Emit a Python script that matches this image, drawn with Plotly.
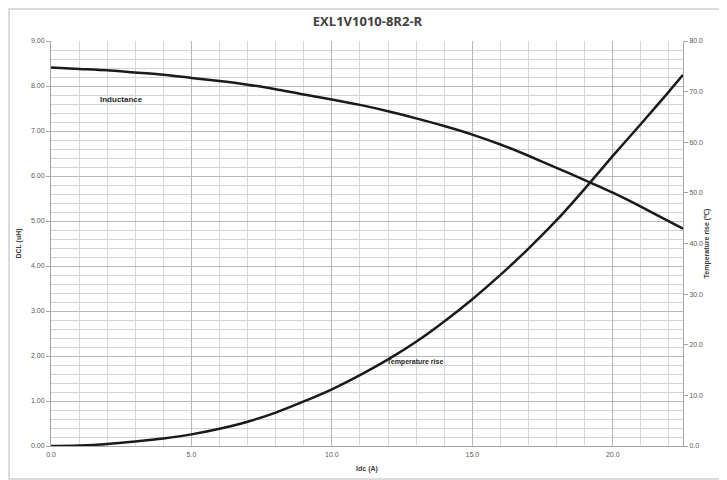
import plotly.graph_objects as go

idc = [0, 1, 2, 3, 4, 5, 6, 7, 8, 9, 10, 11, 12, 13, 14, 15, 16, 17, 18, 19, 20, 21, 22, 22.5]
inductance = [8.41, 8.38, 8.35, 8.30, 8.25, 8.18, 8.11, 8.03, 7.93, 7.81, 7.70, 7.58, 7.44, 7.28,
              7.11, 6.92, 6.70, 6.45, 6.18, 5.91, 5.63, 5.32, 4.99, 4.83]
temp_rise = [0.0, 0.1, 0.4, 0.9, 1.5, 2.3, 3.4, 4.8, 6.6, 8.8, 11.2, 14.0, 17.1, 20.6,
             24.6, 29.0, 33.8, 39.0, 44.6, 50.8, 57.3, 63.6, 70.0, 73.3]

title = "EXL1V1010-8R2-R"
x_title = "Idc (A)"
y_title = "DCL (uH)"
y2_title = "Temperature rise (℃)"

# page body has an 8px margin; the figure is sized to fill the rest of the window
W, H = 719, 472
L, R, T, B = 43, 44, 33, 34
pw, ph = W - L - R, H - T - B

def px_x(p):
    return (p - L) / pw

def px_y(p):
    return (H - B - p) / ph

line_style = dict(color="#1a1a1a", width=2.5, shape="spline", smoothing=0.6)
fig = go.Figure()
fig.add_trace(go.Scatter(x=idc, y=inductance, mode="lines", line=line_style,
                         showlegend=False, yaxis="y"))
fig.add_trace(go.Scatter(x=idc, y=temp_rise, mode="lines", line=line_style,
                         showlegend=False, yaxis="y2"))

tickfont = dict(family="Liberation Sans", size=7, color="#595959")
fig.update_layout(
    width=W, height=H,
    margin=dict(l=L, r=R, t=T, b=B, autoexpand=False),
    paper_bgcolor="white", plot_bgcolor="white",
    title=dict(text="<b>" + title + "</b>", x=0.5, xanchor="center", y=1 - 13 / H, yanchor="middle",
               font=dict(family="Open Sans", size=13, color="#404040")),
    xaxis=dict(range=[0, 22.5], tick0=0, dtick=5, tickformat=".1f", tickfont=tickfont,
               showgrid=True, gridcolor="#b8b8b8", gridwidth=1,
               minor=dict(dtick=1, showgrid=True, gridcolor="#d9d9d9", gridwidth=1),
               showline=True, linecolor="#a6a6a6", linewidth=1, zeroline=False,
               ticks="", ticklabelstandoff=2,
               title=dict(text="<b>" + x_title + "</b>", standoff=8,
                          font=dict(family="Liberation Sans", size=7, color="#404040"))),
    yaxis=dict(range=[0, 9], tick0=0, dtick=1, tickformat=".2f", tickfont=tickfont,
               showgrid=True, gridcolor="#b8b8b8", gridwidth=1,
               minor=dict(dtick=0.2, showgrid=True, gridcolor="#d4d4d4", gridwidth=1),
               showline=True, linecolor="#a6a6a6", linewidth=1, zeroline=False,
               ticks="outside", ticklen=4, tickcolor="#a6a6a6",
               title=dict(text="<b>" + y_title + "</b>", standoff=8,
                          font=dict(family="Liberation Sans", size=7, color="#404040"))),
    yaxis2=dict(range=[0, 80], tick0=0, dtick=10, tickformat=".1f", tickfont=tickfont,
                overlaying="y", side="right", showgrid=False, zeroline=False,
                showline=True, linecolor="#a6a6a6", linewidth=1,
                ticks="outside", ticklen=4, tickcolor="#a6a6a6",
                title=dict(text="<b>" + y2_title + "</b>", standoff=0,
                           font=dict(family="Liberation Sans", size=7, color="#404040"))),
    annotations=[
        dict(text="<b>Inductance</b>", x=2.5, y=7.71, xref="x", yref="y", showarrow=False,
             xanchor="center", yanchor="middle",
             font=dict(family="Liberation Sans", size=8, color="#262626")),
        dict(text="<b>Temperature rise</b>", x=11.9, y=1.87, xref="x", yref="y", showarrow=False,
             xanchor="left", yanchor="middle",
             font=dict(family="Liberation Sans", size=7, color="#262626")),
    ],
    shapes=[
        dict(type="rect", xref="paper", yref="paper",
             x0=px_x(1), x1=px_x(W - 1), y0=px_y(H - 1), y1=px_y(1),
             line=dict(color="#d0d0d0", width=1.5), fillcolor="rgba(0,0,0,0)", layer="below"),
    ],
)

fig.write_html("out.html")
